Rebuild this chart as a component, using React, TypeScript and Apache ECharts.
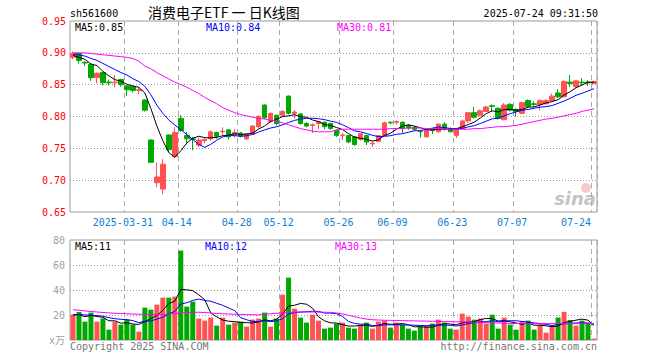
import React, { useEffect, useRef } from "react";
import * as echarts from "echarts";

const dates = [
  "2025-03-18","2025-03-19","2025-03-20","2025-03-21","2025-03-24","2025-03-25","2025-03-26","2025-03-27","2025-03-28",
  "2025-03-31","2025-04-01","2025-04-02","2025-04-03","2025-04-07","2025-04-08","2025-04-09","2025-04-10","2025-04-11",
  "2025-04-14","2025-04-15","2025-04-16","2025-04-17","2025-04-18","2025-04-21","2025-04-22","2025-04-23","2025-04-24","2025-04-25",
  "2025-04-28","2025-04-29","2025-04-30","2025-05-06","2025-05-07","2025-05-08","2025-05-09",
  "2025-05-12","2025-05-13","2025-05-14","2025-05-15","2025-05-16","2025-05-19","2025-05-20","2025-05-21","2025-05-22","2025-05-23",
  "2025-05-26","2025-05-27","2025-05-28","2025-05-29","2025-05-30","2025-06-03","2025-06-04","2025-06-05","2025-06-06",
  "2025-06-09","2025-06-10","2025-06-11","2025-06-12","2025-06-13","2025-06-16","2025-06-17","2025-06-18","2025-06-19","2025-06-20",
  "2025-06-23","2025-06-24","2025-06-25","2025-06-26","2025-06-27","2025-06-30","2025-07-01","2025-07-02","2025-07-03","2025-07-04",
  "2025-07-07","2025-07-08","2025-07-09","2025-07-10","2025-07-11","2025-07-14","2025-07-15","2025-07-16","2025-07-17","2025-07-18",
  "2025-07-21","2025-07-22","2025-07-23","2025-07-24",
];

const labelDates = [
  "2025-03-31","2025-04-14","2025-04-28","2025-05-12","2025-05-26",
  "2025-06-09","2025-06-23","2025-07-07","2025-07-24",
];

const opens = [
  0.893,0.899,0.885,0.882,0.861,0.869,0.854,0.853,0.858,0.848,
  0.847,0.841,0.826,0.763,0.696,0.686,0.771,0.737,0.797,0.770,
  0.765,0.755,0.762,0.765,0.775,0.776,0.779,0.770,0.774,0.765,
  0.772,0.784,0.818,0.792,0.802,0.802,0.832,0.805,0.804,0.789,
  0.786,0.789,0.791,0.789,0.778,0.770,0.770,0.768,0.764,0.770,
  0.757,0.761,0.770,0.791,0.791,0.791,0.786,0.783,0.777,0.768,
  0.780,0.776,0.788,0.781,0.770,0.781,0.793,0.806,0.802,0.808,
  0.817,0.813,0.795,0.819,0.811,0.805,0.825,0.820,0.819,0.820,
  0.825,0.837,0.831,0.854,0.847,0.854,0.854,0.852,
];
const closes = [
  0.899,0.888,0.884,0.861,0.868,0.853,0.853,0.854,0.850,0.842,
  0.841,0.842,0.810,0.728,0.705,0.725,0.748,0.775,0.778,0.765,
  0.764,0.763,0.764,0.776,0.769,0.777,0.768,0.775,0.769,0.773,
  0.785,0.800,0.798,0.805,0.789,0.808,0.805,0.807,0.789,0.785,
  0.787,0.792,0.784,0.781,0.770,0.771,0.760,0.756,0.773,0.760,
  0.758,0.770,0.790,0.790,0.792,0.781,0.782,0.780,0.776,0.778,
  0.778,0.788,0.781,0.776,0.781,0.793,0.806,0.799,0.809,0.815,
  0.816,0.797,0.818,0.810,0.808,0.822,0.816,0.819,0.825,0.825,
  0.832,0.831,0.855,0.852,0.856,0.853,0.853,0.855,
];
const lows = [
  0.890,0.883,0.879,0.856,0.852,0.849,0.849,0.846,0.847,0.832,
  0.838,0.835,0.808,0.727,0.689,0.678,0.744,0.734,0.776,0.758,
  0.747,0.752,0.758,0.762,0.765,0.770,0.764,0.767,0.767,0.763,
  0.771,0.782,0.796,0.790,0.786,0.799,0.803,0.797,0.787,0.783,
  0.774,0.780,0.780,0.779,0.768,0.763,0.758,0.754,0.762,0.755,
  0.752,0.760,0.769,0.788,0.787,0.774,0.779,0.777,0.767,0.767,
  0.773,0.775,0.778,0.775,0.766,0.780,0.790,0.797,0.800,0.807,
  0.807,0.795,0.794,0.808,0.800,0.803,0.813,0.815,0.810,0.818,
  0.824,0.829,0.830,0.846,0.845,0.848,0.848,0.851,
];
const highs = [
  0.902,0.900,0.887,0.883,0.869,0.870,0.858,0.865,0.859,0.849,
  0.848,0.846,0.827,0.764,0.728,0.733,0.772,0.783,0.802,0.776,
  0.768,0.767,0.766,0.778,0.776,0.783,0.780,0.780,0.776,0.774,
  0.786,0.802,0.819,0.806,0.803,0.810,0.833,0.810,0.805,0.791,
  0.789,0.793,0.792,0.790,0.779,0.774,0.771,0.769,0.774,0.771,
  0.762,0.771,0.792,0.792,0.794,0.792,0.788,0.785,0.778,0.780,
  0.782,0.789,0.791,0.783,0.782,0.795,0.807,0.815,0.811,0.817,
  0.819,0.814,0.821,0.821,0.813,0.823,0.827,0.824,0.827,0.827,
  0.836,0.843,0.857,0.865,0.857,0.860,0.857,0.856,
];
// closes of the days just before the visible window (for the moving averages)
const priorCloses = [0.904,0.902,0.899,0.897,0.901,0.903,0.900,0.898,0.880];

const ma30Price = [
  0.900,0.900,0.900,0.899,0.898,0.897,0.896,0.895,0.894,0.893,
  0.891,0.887,0.879,0.875,0.869,0.864,0.859,0.854,0.850,0.846,
  0.841,0.836,0.830,0.825,0.820,0.814,0.810,0.806,0.803,0.801,
  0.799,0.797,0.796,0.794,0.793,0.790,0.787,0.784,0.781,0.779,
  0.777,0.776,0.776,0.776,0.779,0.780,0.780,0.780,0.780,0.780,
  0.780,0.780,0.780,0.781,0.781,0.781,0.782,0.782,0.782,0.781,
  0.781,0.781,0.781,0.780,0.780,0.780,0.780,0.781,0.781,0.782,
  0.783,0.784,0.784,0.785,0.786,0.788,0.790,0.792,0.794,0.796,
  0.797,0.799,0.801,0.803,0.805,0.808,0.810,0.812,
];

const volumes = [
  20.3,22.4,14.7,21.9,14.7,17.3,8.3,14.7,12.3,16.3,
  12.3,6.7,25.9,24.3,28.3,33.9,33.9,34.7,71.5,26.7,
  30.7,17.1,15.5,17.9,11.5,17.9,12.3,13.9,14.7,10.7,
  16.3,17.1,21.9,10.7,17.1,36.3,49.9,25.1,17.9,13.9,
  20.3,15.5,9.1,9.9,13.1,13.9,9.9,9.1,12.3,13.9,
  9.1,14.7,15.5,9.9,13.9,12.3,9.1,7.5,10.7,11.5,
  13.1,16.3,13.9,9.1,8.3,21.1,18.7,16.3,17.1,13.1,
  20.3,9.1,17.9,12.3,8.3,14.7,15.5,8.3,12.3,5.9,
  11.5,18.0,22.5,16.0,11.5,15.5,13.9,1.1,
];
const priorVolumes = [21, 19, 24, 18, 22, 20, 23, 17, 19];
const ma30Volume = [
  24.3,23.8,23.3,22.8,22.4,22.0,21.7,21.4,21.2,21.0,
  20.8,20.6,20.5,20.4,20.3,20.4,20.8,21.2,21.6,21.9,
  22.1,22.2,22.0,21.6,21.2,21.0,20.8,20.6,20.5,20.3,
  20.2,20.1,20.6,21.0,21.4,21.7,22.0,22.3,22.5,22.4,
  22.4,22.3,22.2,22.1,21.6,20.9,19.8,18.7,17.6,16.7,
  16.2,16.0,15.8,15.7,15.6,15.5,15.4,15.3,15.2,15.1,
  15.0,14.9,14.8,14.7,14.6,14.5,14.4,14.3,14.1,13.9,
  13.7,13.6,13.4,13.3,13.2,13.2,13.1,13.1,13.1,13.1,
  13.1,13.1,13.1,13.1,13.1,13.1,13.1,13.1,
];

const RED = "#ff5353";
const GREEN = "#00a800";
const FONT = '"DejaVu Sans Mono", "Liberation Mono", monospace';

function movingAverage(values: number[], prior: number[], n: number): number[] {
  const all = prior.concat(values);
  const off = prior.length;
  return values.map((_, i) => {
    let s = 0;
    for (let k = 0; k < n; k++) s += all[off + i - k];
    return +(s / n).toFixed(4);
  });
}

export default function App() {
  const ref = useRef<HTMLDivElement>(null);
  useEffect(() => {
    if (!ref.current) return;
    const chart = echarts.init(ref.current, undefined, { renderer: "svg" });
    const ma5 = movingAverage(closes, priorCloses, 5);
    const ma10 = movingAverage(closes, priorCloses, 10);
    const vma5 = movingAverage(volumes, priorVolumes, 5);
    const vma10 = movingAverage(volumes, priorVolumes, 10);
    const last = dates.length - 1;
    const fp = (v: number) => (Math.floor(v * 100 + 1e-6) / 100).toFixed(2);
    const fv = (v: number) => String(Math.floor(v + 1e-6));
    const labelSet = new Set(labelDates);
    const isLabel = (_i: number, v: string) => labelSet.has(v);

    const xCommon = (grid: number, showLabel: boolean) => ({
      type: "category",
      gridIndex: grid,
      data: dates,
      boundaryGap: true,
      axisLine: { show: false },
      axisTick: { show: false },
      axisLabel: showLabel
        ? {
            show: true,
            interval: isLabel,
            margin: 5,
            alignMaxLabel: "right",
            formatter: (v: string, idx: number) => {
              const t = idx === 9 ? v : v.slice(5);
              return idx === last ? `{e|${t}}` : `{n|${t}}`;
            },
            rich: {
              n: { padding: [0, 8, 0, 0], color: "#1080d0", fontFamily: FONT, fontSize: 10 },
              e: { padding: [0, 3, 0, 0], color: "#1080d0", fontFamily: FONT, fontSize: 10 },
            },
          }
        : { show: false },
      splitLine: {
        show: true,
        interval: isLabel,
        lineStyle: { color: "#aaaaaa", type: [5, 4], width: 1 },
      },
    });

    const txt = (x: number, y: number, text: string, fill: string, extra: any = {}) => ({
      type: "text",
      x,
      y,
      silent: true,
      style: { text, fill, font: `10px ${FONT}`, verticalAlign: "middle", align: "left", ...extra },
    });

    chart.setOption({
      animation: false,
      grid: [
        { left: 70, right: 63, top: 21, height: 191, show: true, borderColor: "#999999", borderWidth: 1, backgroundColor: "transparent" },
        { left: 70, right: 63, top: 240, height: 100, show: true, borderColor: "#999999", borderWidth: 1, backgroundColor: "transparent" },
      ],
      xAxis: [xCommon(0, true), xCommon(1, false)],
      yAxis: [
        {
          type: "value",
          gridIndex: 0,
          min: 0.65,
          max: 0.95,
          interval: 0.05,
          axisLine: { show: false },
          axisTick: { show: false },
          axisLabel: { color: "#ff0000", fontFamily: FONT, fontSize: 10, margin: 4, formatter: (v: number) => v.toFixed(2) },
          splitLine: { show: true, showMinLine: false, showMaxLine: false, lineStyle: { color: "#999999", type: [1, 2] } },
        },
        {
          type: "value",
          gridIndex: 1,
          min: 0,
          max: 80,
          interval: 20,
          axisLine: { show: false },
          axisTick: { show: false },
          axisLabel: {
            color: "#a0a0a0",
            fontFamily: `"DejaVu Sans Mono", "Noto Sans CJK SC", monospace`,
            fontSize: 10,
            margin: 5,
            formatter: (v: number) => (v === 0 ? "x万" : String(v)),
          },
          splitLine: { show: true, showMinLine: false, showMaxLine: false, lineStyle: { color: "#999999", type: [1, 2] } },
        },
      ],
      series: [
        {
          type: "candlestick",
          xAxisIndex: 0,
          yAxisIndex: 0,
          barWidth: 5,
          data: dates.map((_, i) => [opens[i], closes[i], lows[i], highs[i]]),
          itemStyle: { color: RED, color0: GREEN, borderColor: RED, borderColor0: GREEN, borderWidth: 1 },
        },
        { type: "line", xAxisIndex: 0, yAxisIndex: 0, data: ma5, symbol: "none", lineStyle: { color: "#000000", width: 1 } },
        { type: "line", xAxisIndex: 0, yAxisIndex: 0, data: ma10, symbol: "none", lineStyle: { color: "#0000ff", width: 1 } },
        { type: "line", xAxisIndex: 0, yAxisIndex: 0, data: ma30Price, symbol: "none", lineStyle: { color: "#ff00ff", width: 1 } },
        {
          type: "bar",
          xAxisIndex: 1,
          yAxisIndex: 1,
          barWidth: 5,
          data: volumes.map((v, i) => ({ value: v, itemStyle: { color: closes[i] >= opens[i] ? RED : GREEN } })),
        },
        { type: "line", xAxisIndex: 1, yAxisIndex: 1, data: vma5, symbol: "none", lineStyle: { color: "#000000", width: 1 } },
        { type: "line", xAxisIndex: 1, yAxisIndex: 1, data: vma10, symbol: "none", lineStyle: { color: "#0000ff", width: 1 } },
        { type: "line", xAxisIndex: 1, yAxisIndex: 1, data: ma30Volume, symbol: "none", lineStyle: { color: "#ff00ff", width: 1 } },
      ],
      graphic: [
        txt(70, 13, "sh561600", "#000000"),
        {
          type: "text",
          x: 148,
          y: 12,
          silent: true,
          style: { text: "消费电子ETF 一 日K线图", fill: "#000000", font: '14px "Noto Sans CJK SC", sans-serif', verticalAlign: "middle" },
        },
        txt(598, 13, "2025-07-24 09:31:50", "#000000", { align: "right" }),
        txt(75, 27, `MA5:${fp(ma5[last])}`, "#000000"),
        txt(206, 27, `MA10:${fp(ma10[last])}`, "#0000ff"),
        txt(337, 27, `MA30:${fp(ma30Price[last])}`, "#ff00ff"),
        txt(75, 246, `MA5:${fv(vma5[last])}`, "#000000"),
        txt(205, 246, `MA10:${fv(vma10[last])}`, "#0000ff"),
        txt(335, 246, `MA30:${fv(ma30Volume[last])}`, "#ff00ff"),
        txt(70, 346, "Copyright 2025 SINA.COM", "#777777"),
        txt(597, 346, "http://finance.sina.com.cn", "#777777", { align: "right" }),
        { type: "circle", silent: true, shape: { cx: 586, cy: 188, r: 5 }, style: { fill: "#f2b4b4", opacity: 0.7 } },
        {
          type: "text",
          x: 596,
          y: 198,
          silent: true,
          style: { text: "sina", fill: "#c4c4c4", font: 'italic bold 18px "DejaVu Sans", sans-serif', align: "right", verticalAlign: "middle" },
        },
      ],
    });
    return () => chart.dispose();
  }, []);
  return <div ref={ref} style={{ position: "fixed", left: 0, top: 0, width: 660, height: 360, background: "#ffffff" }} />;
}
